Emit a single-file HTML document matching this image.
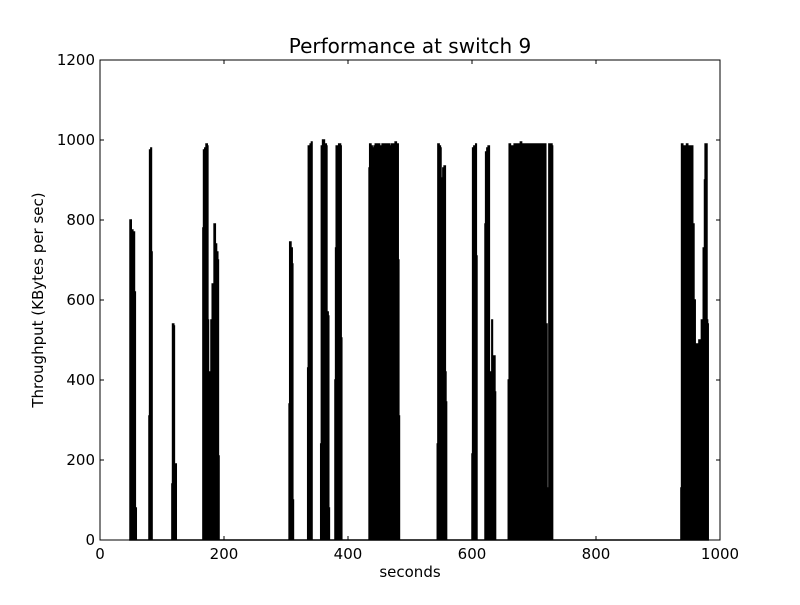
<!DOCTYPE html>
<html><head><meta charset="utf-8"><style>
body{margin:0;background:#fff;}
svg text{font-family:"DejaVu Sans","Liberation Sans",sans-serif;fill:#000;}
</style></head><body>
<svg id="chart" width="800" height="600" xmlns="http://www.w3.org/2000/svg">
<rect width="800" height="600" fill="#fff"/>
<text x="410" y="53" font-size="20" text-anchor="middle">Performance at switch 9</text>
<text x="410" y="577" font-size="15" text-anchor="middle">seconds</text>
<text x="43" y="300" font-size="15" text-anchor="middle" transform="rotate(-90 43 300)">Throughput (KBytes per sec)</text>
<g id="series"></g>
<g id="axes"></g>
</svg>
<script>
const xTicks = [0, 200, 400, 600, 800, 1000];
const yTicks = [0, 200, 400, 600, 800, 1000, 1200];
const times = [47,48.4,50.4,53,55.6,57,58.5,
78.5,79,80,82,83,84,
115.5,116,117,119,120,122,123,
165,166,167,169,171,173,174,175,177,179,181,184,186,188,190,191,192,
304.5,305,306,308,310,311,312,
334.5,335,336,339,341,342,
355.5,356,357,359,362,365,366,368,369,370,
378.5,379,380,381,385,388,389,390,
433.5,434,435,437,439,440,441,442,444,446,447,448,450,451,452,453,455,457,458,459,461,463,464,465,467,469,470,472,473,474,476,478,479,480,481,482,483,
543.5,544,545,547,549,550,551,553,555,557,558,559,
599.5,600,601,603,606,607,608,
620.5,621,622,624,626,628,630,632,633,635,637,638,
658,658.5,660,662,663,664,666,667,668,670,671,672,674,675,676,678,680,681,682,684,686,687,688,690,692,694,695,696,698,700,702,704,705,706,708,710,712,714,716,718,719,720,721,723,724,727,729,730,
936.5,937,938,940,942,943,944,946,948,950,951,952,954,956,958,960,962,964,966,968,970,972,973,975,976,978,979,980,981];
const values = [0,800,775,770,620,80,0,
0,310,975,980,720,0,
0,140,540,535,190,190,0,
0,780,975,980,990,985,550,270,420,550,640,790,740,720,700,210,0,
0,340,745,730,690,100,0,
0,430,985,990,995,0,
0,240,985,1000,990,985,570,560,80,0,
0,400,730,985,990,985,505,0,
0,930,990,985,980,390,695,985,990,990,850,990,990,600,620,985,990,985,600,990,990,980,620,990,985,690,990,985,420,990,995,990,850,990,700,310,0,
0,240,990,985,980,570,905,930,935,420,345,0,
0,215,980,985,990,710,0,
0,790,970,980,985,300,420,550,440,460,370,0,
0,400,990,985,345,985,980,590,990,990,760,990,990,510,990,995,985,720,990,990,990,750,990,985,990,990,520,990,990,985,990,990,700,990,990,985,990,990,540,990,540,540,130,130,990,990,985,0,
0,130,990,985,985,480,985,990,985,985,600,985,985,790,600,490,480,490,500,490,550,550,730,900,990,990,550,540,0];
const NS='http://www.w3.org/2000/svg';
const L=100,R=720,T=60,B=540;
const xS=v=>L+(v/1000)*(R-L);
const yS=v=>B-(v/1200)*(B-T);
const series=document.getElementById('series');
let d='M'+xS(times[0]).toFixed(2)+','+yS(0);
for(let i=0;i<times.length;i++){
  d+=' L'+xS(times[i]).toFixed(2)+','+yS(values[i]).toFixed(2);
  if(i<times.length-1) d+=' L'+xS(times[i+1]).toFixed(2)+','+yS(values[i]).toFixed(2);
}
d+=' L'+xS(times[times.length-1]).toFixed(2)+','+yS(0)+' Z';
const p=document.createElementNS(NS,'path');
p.setAttribute('d',d);p.setAttribute('fill','#000');p.setAttribute('stroke','#000');p.setAttribute('stroke-width','1.5');


series.appendChild(p);
const axes=document.getElementById('axes');
const fr=document.createElementNS(NS,'rect');
fr.setAttribute('x',L);fr.setAttribute('y',T);fr.setAttribute('width',R-L);fr.setAttribute('height',B-T);fr.setAttribute('fill','none');fr.setAttribute('stroke','#000');fr.setAttribute('stroke-width','1');


axes.appendChild(fr);
function line(x1,y1,x2,y2){const l=document.createElementNS(NS,'line');l.setAttribute('x1',x1);l.setAttribute('y1',y1);l.setAttribute('x2',x2);l.setAttribute('y2',y2);l.setAttribute('stroke','#000');l.setAttribute('stroke-width','1');axes.appendChild(l);return l;}
xTicks.forEach(v=>{const x=xS(v);
const a=line(x,B,x,B-4);


const b=line(x,T,x,T+4);


const t=document.createElementNS(NS,'text');t.setAttribute('x',x);t.setAttribute('y',B+19);t.setAttribute('font-size','15');t.setAttribute('text-anchor','middle');t.textContent=v;


axes.appendChild(t);});
yTicks.forEach(v=>{const y=yS(v);
const a=line(L,y,L+4,y);


const b=line(R,y,R-4,y);


const t=document.createElementNS(NS,'text');t.setAttribute('x',L-5);t.setAttribute('y',y+5);t.setAttribute('font-size','15');t.setAttribute('text-anchor','end');t.textContent=v;


axes.appendChild(t);});
</script>
</body></html>
